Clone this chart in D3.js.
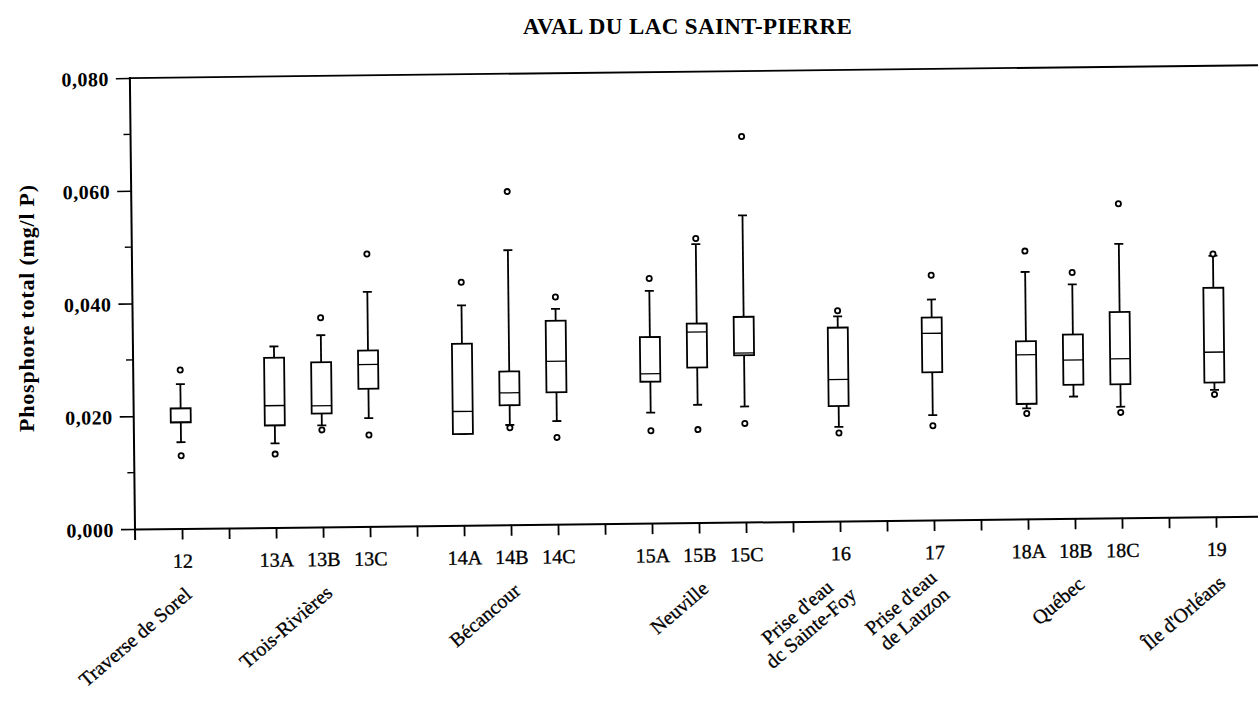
<!DOCTYPE html>
<html>
<head>
<meta charset="utf-8">
<script src="https://cdn.jsdelivr.net/npm/d3@7"></script>
<style>
  html, body { margin: 0; padding: 0; background: #fff; }
  svg { display: block; }
  text { font-family: "Liberation Serif", "Times New Roman", serif; fill: #000; }
</style>
</head>
<body>
<svg id="chart" width="1258" height="704"></svg>
<script>
(function () {
// ---- Data ----
const title = "AVAL DU LAC SAINT-PIERRE";
const yTitle = "Phosphore total (mg/l P)";
const yTicks = [0, 0.02, 0.04, 0.06, 0.08];
const yMinorTicks = [0.01, 0.03, 0.05, 0.07];

const groups = [
  { name: ["Traverse de Sorel"], members: ["12"] },
  { name: ["Trois-Rivières"], members: ["13A", "13B", "13C"] },
  { name: ["Bécancour"], members: ["14A", "14B", "14C"] },
  { name: ["Neuville"], members: ["15A", "15B", "15C"] },
  { name: ["Prise d'eau", "dc Sainte-Foy"], members: ["16"] },
  { name: ["Prise d'eau", "de Lauzon"], members: ["17"] },
  { name: ["Québec"], members: ["18A", "18B", "18C"] },
  { name: ["Île d'Orléans"], members: ["19"] }
];

const categories   = ["12", "13A", "13B", "13C", "14A", "14B", "14C", "15A", "15B", "15C", "16", "17", "18A", "18B", "18C", "19"];
const whiskerLow   = [0.0153, 0.0149, 0.0180, 0.0192, 0.0162, 0.0177, 0.0183, 0.0196, 0.0209, 0.0205, 0.0167, 0.0186, 0.0196, 0.0216, 0.0197, 0.0225];
const q1           = [0.0188, 0.0181, 0.0201, 0.0244, 0.0162, 0.0212, 0.0234, 0.0251, 0.0275, 0.0296, 0.0204, 0.0262, 0.0204, 0.0237, 0.0237, 0.0238];
const median       = [0.0189, 0.0216, 0.0215, 0.0287, 0.0202, 0.0234, 0.0289, 0.0265, 0.0338, 0.0300, 0.0251, 0.0331, 0.0291, 0.0281, 0.0282, 0.0292];
const q3           = [0.0213, 0.0301, 0.0292, 0.0312, 0.0322, 0.0272, 0.0361, 0.0330, 0.0353, 0.0364, 0.0343, 0.0359, 0.0315, 0.0326, 0.0365, 0.0406];
const whiskerHigh  = [0.0256, 0.0321, 0.0340, 0.0416, 0.0390, 0.0487, 0.0382, 0.0412, 0.0494, 0.0544, 0.0363, 0.0391, 0.0438, 0.0415, 0.0486, 0.0463];
const outlierHigh  = [0.0281, null,   0.0371, 0.0483, 0.0431, 0.0591, 0.0403, 0.0434, 0.0504, 0.0684, 0.0373, 0.0434, 0.0475, 0.0436, 0.0557, 0.0466];
const outlierLow   = [0.0129, 0.0130, 0.0172, 0.0162, null,   0.0172, 0.0154, 0.0164, 0.0165, 0.0175, 0.0156, 0.0167, 0.0187, null,   0.0187, 0.0217];

// ---- Layout ----
const svg = d3.select("#chart");
const plotLeft = 135, plotBottom = 529, plotTop = 78;
const slotW = 47;

// x domain: a leading blank slot, each group's stations, then a blank slot after each group
const domain = ["_start"];
groups.forEach((g, i) => { g.members.forEach(m => domain.push(m)); domain.push("_gap" + i); });

const x = d3.scalePoint().domain(domain).range([plotLeft, plotLeft + (domain.length - 1) * slotW]).padding(0);
const y = d3.scaleLinear().domain([0, 0.08]).range([plotBottom, plotTop]);

// Title
svg.append("text")
  .attr("x", 523).attr("y", 34)
  .attr("font-size", 23).attr("font-weight", "bold")
  .attr("letter-spacing", 0.4)
  .text(title);

// Chart group, slightly tilted like the scanned original
const g = svg.append("g").attr("transform", `rotate(-0.65, ${plotLeft}, ${plotBottom})`);

// Y axis
const yAxis = d3.axisLeft(y).tickValues(yTicks).tickSize(14)
  .tickFormat(d => d3.format(".3f")(d).replace(".", ","));
const ya = g.append("g").attr("transform", `translate(${plotLeft},0)`).call(yAxis);
ya.select(".domain").remove();
ya.selectAll(".tick line").attr("stroke", "#000").attr("stroke-width", 1.6);
ya.selectAll(".tick text")
  .attr("x", -21).attr("dy", "0.36em")
  .attr("font-size", 20).attr("font-weight", "bold")
  .attr("letter-spacing", 0.5)
  .attr("font-family", "Liberation Serif, serif");

g.append("g").selectAll("line").data(yMinorTicks).join("line")
  .attr("x1", plotLeft - 7).attr("x2", plotLeft)
  .attr("y1", d => y(d)).attr("y2", d => y(d))
  .attr("stroke", "#000").attr("stroke-width", 1.4);

// Axis lines / frame
g.append("line").attr("x1", plotLeft).attr("x2", plotLeft).attr("y1", plotTop - 1).attr("y2", plotBottom + 11)
  .attr("stroke", "#000").attr("stroke-width", 2);
g.append("line").attr("x1", plotLeft).attr("x2", 1270).attr("y1", plotTop).attr("y2", plotTop)
  .attr("stroke", "#000").attr("stroke-width", 1.8);

// X axis
const xTickVals = domain.slice(1);
const xAxis = d3.axisBottom(x).tickValues(xTickVals).tickSize(11)
  .tickFormat(d => d.startsWith("_") ? "" : d);
const xa = g.append("g").attr("transform", `translate(0,${plotBottom})`).call(xAxis);
xa.select(".domain").attr("stroke", "#000").attr("stroke-width", 2)
  .attr("d", `M${plotLeft},0.5H1270`);
xa.selectAll(".tick line").attr("stroke", "#000").attr("stroke-width", 1.8);
xa.selectAll(".tick text")
  .attr("y", 25).attr("dy", "0.71em")
  .attr("font-size", 20)
  .attr("stroke", "#000").attr("stroke-width", 0.35)
  .attr("font-family", "Liberation Serif, serif");

// Group labels (rotated; multi-line labels centred on their longest line)
const lineH = 21;
groups.forEach(gr => {
  const mid = gr.members[Math.floor(gr.members.length / 2)];
  const t = g.append("text")
    .attr("transform", `translate(${x(mid) + 10},${plotBottom + 68}) rotate(-40)`)
    .attr("text-anchor", "end")
    .attr("font-size", 20)
    .attr("stroke", "#000").attr("stroke-width", 0.3);
  const n = gr.name.length;
  const spans = gr.name.map((line, i) =>
    t.append("tspan").attr("x", 0).attr("y", (i - (n - 1) / 2) * lineH).text(line));
  const lens = spans.map(s => s.node().getComputedTextLength());
  const maxLen = d3.max(lens);
  spans.forEach((s, i) => s.attr("x", -(maxLen - lens[i]) / 2));
});

// Boxes
const boxW = 20, capW = 9;
const stats = categories.map((c, i) => ({
  c, lo: whiskerLow[i], q1: q1[i], med: median[i], q3: q3[i], hi: whiskerHigh[i],
  oh: outlierHigh[i], ol: outlierLow[i]
}));

const bx = g.append("g").attr("stroke", "#000").attr("fill", "none").attr("stroke-width", 1.8);
const b = bx.selectAll("g.box").data(stats).join("g").attr("class", "box");

b.append("line").attr("x1", d => x(d.c)).attr("x2", d => x(d.c))
  .attr("y1", d => y(d.q3)).attr("y2", d => y(d.hi));
b.append("line").attr("x1", d => x(d.c)).attr("x2", d => x(d.c))
  .attr("y1", d => y(d.q1)).attr("y2", d => y(d.lo));
b.append("line").attr("x1", d => x(d.c) - capW / 2).attr("x2", d => x(d.c) + capW / 2)
  .attr("y1", d => y(d.hi)).attr("y2", d => y(d.hi));
b.append("line").attr("x1", d => x(d.c) - capW / 2).attr("x2", d => x(d.c) + capW / 2)
  .attr("y1", d => y(d.lo)).attr("y2", d => y(d.lo));
b.append("rect")
  .attr("x", d => x(d.c) - boxW / 2).attr("width", boxW)
  .attr("y", d => y(d.q3)).attr("height", d => y(d.q1) - y(d.q3))
  .attr("fill", "#fff");
b.append("line").attr("x1", d => x(d.c) - boxW / 2).attr("x2", d => x(d.c) + boxW / 2)
  .attr("y1", d => y(d.med)).attr("y2", d => y(d.med)).attr("stroke-width", 1.3);

const outs = [];
stats.forEach(d => { if (d.oh != null) outs.push({ c: d.c, v: d.oh }); if (d.ol != null) outs.push({ c: d.c, v: d.ol }); });
bx.selectAll("circle").data(outs).join("circle")
  .attr("cx", d => x(d.c)).attr("cy", d => y(d.v)).attr("r", 2.6)
  .attr("fill", "#fff").attr("stroke-width", 1.8);

// Y axis title
svg.append("text")
  .attr("transform", `translate(34,308) rotate(-90)`)
  .attr("text-anchor", "middle")
  .attr("font-size", 22).attr("font-weight", "bold")
  .attr("letter-spacing", 0.8)
  .text(yTitle);
})();
</script>
</body>
</html>
